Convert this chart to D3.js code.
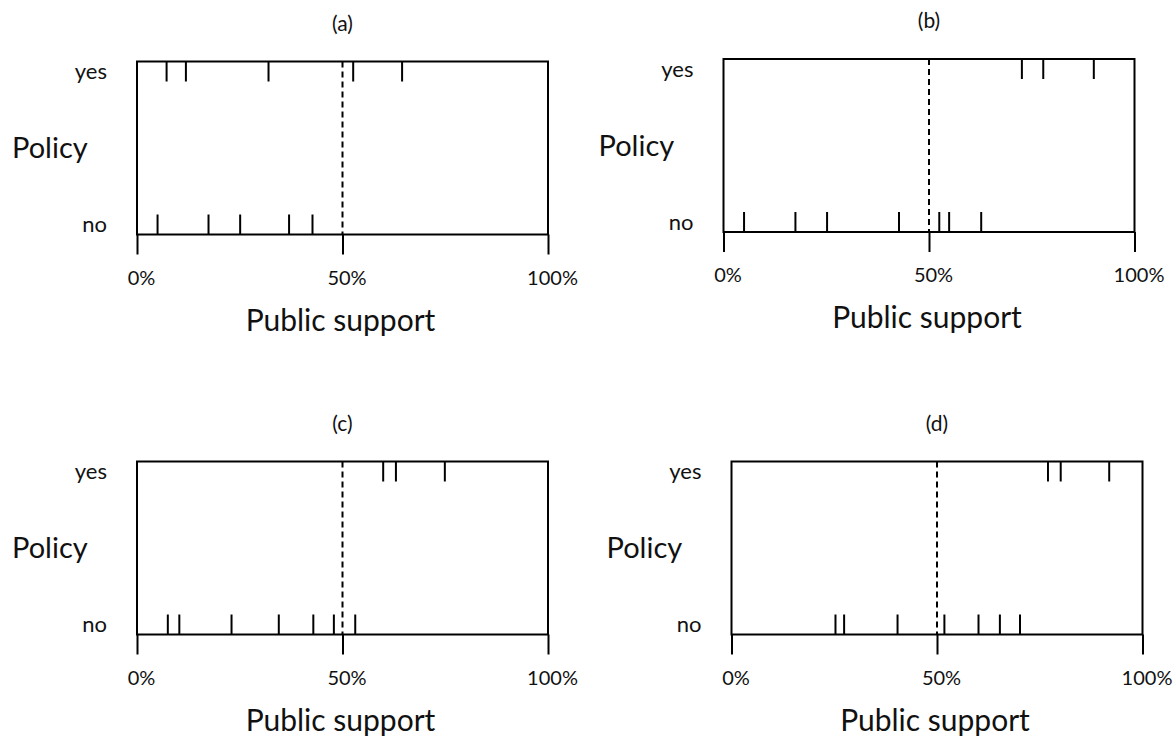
<!DOCTYPE html>
<html>
<head>
<meta charset="utf-8">
<script src="https://d3js.org/d3.v7.min.js"></script>
<style>
  body { margin: 0; background: #fff; }
  text { font-family: Lato, "Open Sans", sans-serif; fill: #111; }
</style>
</head>
<body>
<div id="chart"></div>
<script>
 //Data: public support (%) for each policy outcome
 var panelTitles = ["(a)", "(b)", "(c)", "(d)"];
 var categories = ["no", "yes"];
 var tickLabels = [0, 50, 100];
 var threshold = 50;

 var aYes = [7.2, 11.9, 32.0, 52.6, 64.5];
 var aNo = [5.0, 17.4, 25.1, 37.0, 42.7];
 var bYes = [72.6, 77.8, 90.1];
 var bNo = [5.0, 17.5, 25.2, 42.7, 52.5, 54.9, 62.7];
 var cYes = [59.9, 63.0, 74.9];
 var cNo = [7.5, 10.3, 23.0, 34.5, 42.9, 47.9, 53.1];
 var dYes = [77.0, 80.1, 91.9];
 var dNo = [25.3, 27.4, 40.4, 51.8, 60.1, 65.3, 70.2];

 var panels = [
     { title: panelTitles[0], yes: aYes, no: aNo, left: 137, top: 61.5 },
     { title: panelTitles[1], yes: bYes, no: bNo, left: 723.5, top: 59 },
     { title: panelTitles[2], yes: cYes, no: cNo, left: 137, top: 461.5 },
     { title: panelTitles[3], yes: dYes, no: dNo, left: 731.5, top: 461.5 }
 ];

 //Dimensions
 var width = 411,
     height = 173,
     markLen = 20;

 var svg = d3.select("#chart")
     .append("svg")
     .attr("width", 1175)
     .attr("height", 742);

 //Scales
 var x = d3.scaleLinear()
     .domain([0, 100])
     .range([0, width]);

 var y = d3.scalePoint()
     .domain(categories)
     .range([height - markLen / 2, markLen / 2]);

 panels.forEach(function (p) {
     var g = svg.append("g")
         .attr("transform", "translate(" + p.left + "," + p.top + ")");

     //Frame
     g.append("rect")
         .attr("width", width)
         .attr("height", height)
         .attr("fill", "none")
         .attr("stroke", "#000")
         .attr("stroke-width", 2);

     //X axis
     var xAxis = g.append("g")
         .attr("transform", "translate(0," + height + ")")
         .call(d3.axisBottom(x)
             .tickValues(tickLabels)
             .tickSize(20)
             .tickPadding(16)
             .tickFormat(function (d) { return d + "%"; }));
     xAxis.select(".domain").remove();
     xAxis.selectAll("line").attr("stroke", "#000").attr("stroke-width", 2);
     xAxis.selectAll("text")
         .attr("dx", "0.2em")
         .style("font-size", "20px")
         .style("font-family", "Lato, sans-serif")
         .attr("fill", "#111");

     //Y axis
     var yAxis = g.append("g")
         .call(d3.axisLeft(y).tickSize(0).tickPadding(30));
     yAxis.select(".domain").remove();
     yAxis.selectAll("text")
         .style("font-size", "22px")
         .style("font-family", "Lato, sans-serif")
         .attr("fill", "#111");

     //50% threshold
     g.append("line")
         .attr("x1", x(threshold))
         .attr("x2", x(threshold))
         .attr("y1", 0)
         .attr("y2", height)
         .attr("stroke", "#000")
         .attr("stroke-width", 2)
         .attr("stroke-dasharray", "6,4");

     //Support marks
     var marks = [];
     p.yes.forEach(function (v) { marks.push({ cat: "yes", v: v }); });
     p.no.forEach(function (v) { marks.push({ cat: "no", v: v }); });

     g.selectAll(".mark")
         .data(marks)
         .enter()
         .append("line")
         .attr("class", "mark")
         .attr("x1", function (d) { return x(d.v); })
         .attr("x2", function (d) { return x(d.v); })
         .attr("y1", function (d) { return y(d.cat) - markLen / 2; })
         .attr("y2", function (d) { return y(d.cat) + markLen / 2; })
         .attr("stroke", "#000")
         .attr("stroke-width", 2);

     //Title
     g.append("text")
         .attr("x", width / 2)
         .attr("y", -31)
         .attr("text-anchor", "middle")
         .style("font-size", "21px")
         .text(p.title);

     //Y-Axis Label
     g.append("text")
         .attr("x", -125)
         .attr("y", height / 2 + 10)
         .style("font-size", "29px")
         .text("Policy");

     //X-Axis Label
     g.append("text")
         .attr("x", width / 2 - 2)
         .attr("y", height + 96)
         .attr("text-anchor", "middle")
         .style("font-size", "30px")
         .text("Public support");
 });
</script>
</body>
</html>
